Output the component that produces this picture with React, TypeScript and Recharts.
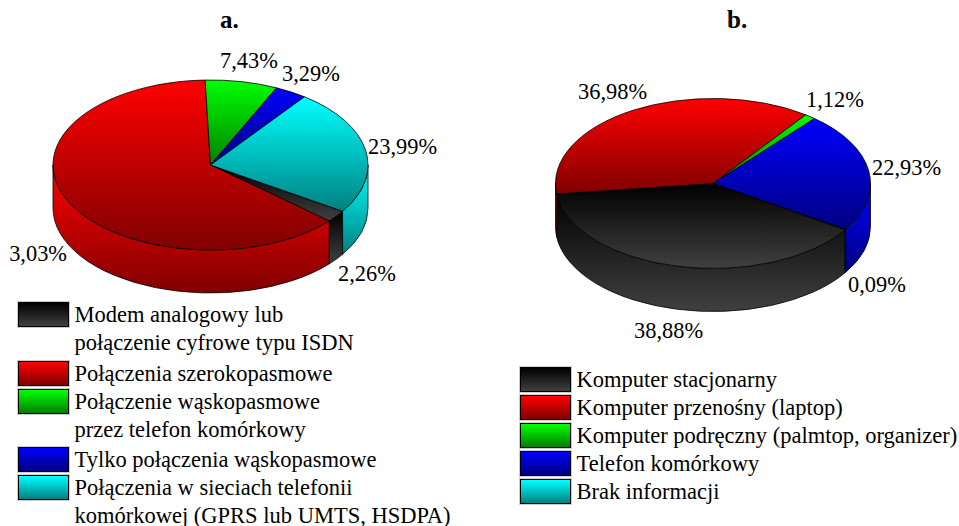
import React from "react";
import { PieChart, Pie, Legend } from "recharts";

const W = 959;
const H = 526;
const SERIF = "'Liberation Serif', 'Times New Roman', serif";

// Chart a
const namesA = [
  "Modem analogowy lub\npołączenie cyfrowe typu ISDN",
  "Połączenia szerokopasmowe",
  "Połączenie wąskopasmowe\nprzez telefon komórkowy",
  "Tylko połączenia wąskopasmowe",
  "Połączenia w sieciach telefonii\nkomórkowej (GPRS lub UMTS, HSDPA)",
];
const valuesA = [2.26, 63.03, 7.43, 3.29, 23.99];
const textsA = ["2,26%", "63,03%", "7,43%", "3,29%", "23,99%"];

// Chart b
const namesB = [
  "Komputer stacjonarny",
  "Komputer przenośny (laptop)",
  "Komputer podręczny (palmtop, organizer)",
  "Telefon komórkowy",
  "Brak informacji",
];
const valuesB = [38.88, 36.98, 1.12, 22.93, 0.09];
const textsB = ["38,88%", "36,98%", "1,12%", "22,93%", "0,09%"];

const gradients: [string, string][] = [
  ["#000000", "#404040"],
  ["#ff0000", "#800000"],
  ["#00ff00", "#008000"],
  ["#0000ff", "#000080"],
  ["#00ffff", "#008080"],
];

type Spot = { x: number; y: number; anchor: "start" | "end" };
const spotsA: Spot[] = [
  { x: 338, y: 280.5, anchor: "start" },
  { x: 67, y: 261, anchor: "end" },
  { x: 220, y: 68, anchor: "start" },
  { x: 282, y: 81, anchor: "start" },
  { x: 368, y: 154, anchor: "start" },
];
const spotsB: Spot[] = [
  { x: 634, y: 338, anchor: "start" },
  { x: 578, y: 99, anchor: "start" },
  { x: 806, y: 107, anchor: "start" },
  { x: 872, y: 175, anchor: "start" },
  { x: 848, y: 292, anchor: "start" },
];

const legendTopsA = [302, 361, 389, 447, 475];
const legendTopsB = [367, 395, 423, 451, 479];

const toRows = (names: string[], values: number[]) =>
  names.map((name, i) => ({ name, value: values[i], fill: `url(#grad${i})` }));

const rowsA = toRows(namesA, valuesA);
const rowsB = toRows(namesB, valuesB);

const RX = 157.5;
const RY = 85;
const DEPTH = 43;
const STROKE = { stroke: "#000", strokeWidth: 0.8, strokeLinejoin: "round" as const };

const pt = (cx: number, cy: number, deg: number) => {
  const r = (deg * Math.PI) / 180;
  return [cx + RX * Math.cos(r), cy - RY * Math.sin(r)];
};

const TopFace = (p: any) => {
  const { cx, cy, startAngle: s, endAngle: e, fill } = p;
  const a = pt(cx, cy, s);
  const b = pt(cx, cy, e);
  const large = Math.abs(s - e) > 180 ? 1 : 0;
  return (
    <path
      d={`M${cx},${cy}L${a[0]},${a[1]}A${RX},${RY} 0 ${large} 1 ${b[0]},${b[1]}Z`}
      fill={fill}
      {...STROKE}
    />
  );
};

const Wall = (p: any) => {
  const { cx, cy, startAngle: s, endAngle: e, fill } = p;
  const bands = [
    [0, -180],
    [-360, -540],
  ];
  const parts: string[] = [];
  for (const [hi, lo] of bands) {
    const a1 = Math.min(s, hi);
    const a2 = Math.max(e, lo);
    if (a1 > a2) {
      const a = pt(cx, cy, a1);
      const b = pt(cx, cy, a2);
      parts.push(
        `M${a[0]},${a[1]}A${RX},${RY} 0 0 1 ${b[0]},${b[1]}L${b[0]},${b[1] + DEPTH}A${RX},${RY} 0 0 0 ${a[0]},${a[1] + DEPTH}Z`
      );
    }
  }
  if (!parts.length) return <g />;
  return <path d={parts.join("")} fill={fill} {...STROKE} />;
};

const makeLabel = (texts: string[], spots: Spot[], clip?: boolean) => (p: any) => {
  const i = p.index;
  return (
    <text
      x={spots[i].x}
      y={spots[i].y}
      textAnchor={spots[i].anchor}
      style={{ fontFamily: SERIF, fontSize: 22.4 }}
      fill="#000"
      stroke="none"
      clipPath={clip ? "url(#leftEdge)" : undefined}
    >
      {texts[i]}
    </text>
  );
};

const makeLegend = (tops: number[], x: number, extraLineGap: number) => (props: any) => {
  const seen = new Set<string>();
  const items: any[] = (props.payload || []).filter((it: any) => {
    const k = String(it.value);
    if (seen.has(k)) return false;
    seen.add(k);
    return true;
  });
  return (
    <div style={{ position: "relative", width: W, height: 0 }}>
      {items.map((it, i) => (
        <React.Fragment key={i}>
          <div
            style={{
              position: "absolute",
              left: x,
              top: tops[i],
              width: 49,
              height: 23,
              border: "1px solid #000",
              outline: "1px solid #ccc",
              background: `linear-gradient(${gradients[i][0]}, ${gradients[i][1]})`,
            }}
          />
          {String(it.value)
            .split("\n")
            .map((line, j) => (
              <div
                key={j}
                style={{
                  position: "absolute",
                  left: x + 56.5,
                  top: tops[i] + j * extraLineGap - 2,
                  fontFamily: SERIF,
                  fontSize: 22.5,
                  lineHeight: "30px",
                  whiteSpace: "nowrap",
                  color: "#000",
                }}
              >
                {line}
              </div>
            ))}
        </React.Fragment>
      ))}
    </div>
  );
};

const Defs = () => (
  <defs>
    {gradients.map((g, i) => (
      <linearGradient key={i} id={`grad${i}`} x1="0" y1="0" x2="0" y2="1">
        <stop offset="0" stopColor={g[0]} />
        <stop offset="1" stopColor={g[1]} />
      </linearGradient>
    ))}
    <clipPath id="leftEdge">
      <rect x={9} y={0} width={W} height={H} />
    </clipPath>
  </defs>
);

const Title = ({ x, t }: { x: number; t: string }) => (
  <text x={x} y={28} fontFamily={SERIF} fontSize={25} fontWeight="bold" fill="#000">
    {t}
  </text>
);

const layer: React.CSSProperties = { position: "absolute", left: 0, top: 0 };

export default function App() {
  return (
    <div style={{ position: "absolute", left: 0, top: 0, width: W, height: H, overflow: "hidden", background: "#fff" }}>
      <div style={layer}>
        <PieChart width={W} height={H} margin={{ top: 0, right: 0, bottom: 0, left: 0 }}>
          <Defs />
          <Title x={220} t="a." />
          <Pie
            data={rowsA}
            dataKey="value"
            nameKey="name"
            cx={210.5}
            cy={165}
            outerRadius={RX}
            startAngle={-33}
            endAngle={-393}
            legendType="none"
            isAnimationActive={false}
            shape={Wall}
            label={false}
          />
          <Pie
            data={rowsA}
            dataKey="value"
            nameKey="name"
            cx={210.5}
            cy={165}
            outerRadius={RX}
            startAngle={-33}
            endAngle={-393}
            isAnimationActive={false}
            shape={TopFace}
            labelLine={false}
            label={makeLabel(textsA, spotsA, true)}
          />
          <Legend
            itemSorter={null}
            content={makeLegend(legendTopsA, 18, 28)}
            wrapperStyle={{ left: 0, top: 0, bottom: "auto", width: W, height: 0 }}
          />
        </PieChart>
      </div>
      <div style={layer}>
        <PieChart width={W} height={H} margin={{ top: 0, right: 0, bottom: 0, left: 0 }}>
          <Title x={727} t="b." />
          <Pie
            data={rowsB}
            dataKey="value"
            nameKey="name"
            cx={713}
            cy={183.5}
            outerRadius={RX}
            startAngle={-33}
            endAngle={-393}
            legendType="none"
            isAnimationActive={false}
            shape={Wall}
            label={false}
          />
          <Pie
            data={rowsB}
            dataKey="value"
            nameKey="name"
            cx={713}
            cy={183.5}
            outerRadius={RX}
            startAngle={-33}
            endAngle={-393}
            isAnimationActive={false}
            shape={TopFace}
            labelLine={false}
            label={makeLabel(textsB, spotsB)}
          />
          <Legend
            itemSorter={null}
            content={makeLegend(legendTopsB, 520, 28)}
            wrapperStyle={{ left: 0, top: 0, bottom: "auto", width: W, height: 0 }}
          />
        </PieChart>
      </div>
    </div>
  );
}
